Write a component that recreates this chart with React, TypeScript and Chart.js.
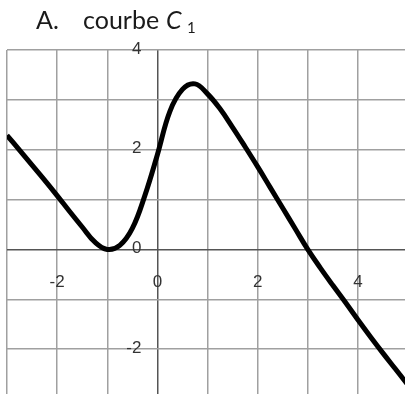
import React, { useEffect, useRef } from "react";
import { Chart, registerables } from "chart.js";

Chart.register(...registerables);

// Points of the curve C1, sampled every 0.25
const curveX = [-3, -2.75, -2.5, -2.25, -2, -1.75, -1.5, -1.25, -1, -0.75, -0.5, -0.25, 0, 0.25, 0.5, 0.75, 1, 1.25, 1.5, 1.75, 2, 2.25, 2.5, 2.75, 3, 3.25, 3.5, 3.75, 4, 4.25, 4.5, 4.75, 5];
const curveY = [2.29, 1.99, 1.69, 1.39, 1.08, 0.76, 0.45, 0.15, 0, 0.08, 0.42, 1.08, 1.9, 2.77, 3.21, 3.32, 3.12, 2.82, 2.45, 2.06, 1.66, 1.245, 0.83, 0.415, 0, -0.37, -0.72, -1.06, -1.41, -1.75, -2.08, -2.4, -2.72];

// Axis bounds and labelled ticks
const xRange = [-3, 4.94];
const yRange = [-2.9, 4];
const xTickLabels = [-2, 0, 2, 4];
const yTickLabels = [4, 2, 0, -2];

const titleParts = { prefix: "A.", word: "courbe", name: "C", sub: "1" };

const GRID = "#a0a0a0";
const AXIS = "#555555";

const axisLabels = {
  id: "axisLabels",
  beforeDatasetsDraw(chart: any) {
    const { ctx } = chart;
    const xs = chart.scales.x;
    const ys = chart.scales.y;
    const x0 = xs.getPixelForValue(0);
    const y0 = ys.getPixelForValue(0);
    ctx.save();
    ctx.fillStyle = "#333";
    ctx.font = "17px 'Liberation Sans', Arial, sans-serif";
    ctx.textBaseline = "middle";
    ctx.textAlign = "center";
    for (const v of xTickLabels) {
      ctx.fillText(String(v), xs.getPixelForValue(v), y0 + 33);
    }
    ctx.textAlign = "right";
    for (const v of yTickLabels) {
      ctx.fillText(String(v), x0 - 16, ys.getPixelForValue(v) - 1);
    }
    ctx.restore();
  },
  afterDraw(chart: any) {
    const { ctx } = chart;
    ctx.save();
    ctx.fillStyle = "#1a1a1a";
    ctx.textBaseline = "alphabetic";
    ctx.textAlign = "left";
    ctx.font = "25px Lato, 'Open Sans', sans-serif";
    ctx.fillText(titleParts.prefix, 36, 29);
    ctx.fillText(titleParts.word, 83, 29);
    ctx.font = "italic 25px Lato, 'Open Sans', sans-serif";
    ctx.fillText(titleParts.name, 166, 29);
    ctx.font = "15px Lato, 'Open Sans', sans-serif";
    ctx.fillText(titleParts.sub, 187, 33);
    ctx.restore();
  },
};

export default function App() {
  const canvasRef = useRef<HTMLCanvasElement | null>(null);

  useEffect(() => {
    const canvas = canvasRef.current;
    if (!canvas) return;
    const points = curveX.map((x, i) => ({ x, y: curveY[i] }));
    const gridColor = (c: any) => (c.tick && c.tick.value === 0 ? AXIS : GRID);
    const chart = new Chart(canvas, {
      type: "line",
      data: {
        datasets: [
          {
            data: points,
            borderColor: "#000",
            borderWidth: 5,
            pointRadius: 0,
            tension: 0.4,
            fill: false,
          },
        ],
      },
      options: {
        animation: false,
        responsive: false,
        devicePixelRatio: 1,
        layout: { padding: { left: 7, top: 50, right: 0, bottom: 0 } },
        plugins: { legend: { display: false }, tooltip: { enabled: false }, title: { display: false } },
        scales: {
          x: {
            type: "linear",
            min: xRange[0],
            max: xRange[1],
            border: { display: false },
            grid: { color: gridColor, lineWidth: 1.5, drawTicks: false },
            ticks: { display: false, stepSize: 1, includeBounds: false },
            afterFit: (s: any) => { s.height = 0; },
          },
          y: {
            type: "linear",
            min: yRange[0],
            max: yRange[1],
            border: { display: false },
            grid: { color: gridColor, lineWidth: 1.5, drawTicks: false },
            ticks: { display: false, stepSize: 1, includeBounds: false },
            afterFit: (s: any) => { s.width = 0; },
          },
        },
      } as any,
      plugins: [axisLabels],
    });
    return () => chart.destroy();
  }, []);

  return (
    <div style={{ position: "absolute", left: 0, top: 0, width: 405, height: 394, background: "#fff" }}>
      <canvas ref={canvasRef} width={405} height={394} style={{ display: "block" }} />
    </div>
  );
}
